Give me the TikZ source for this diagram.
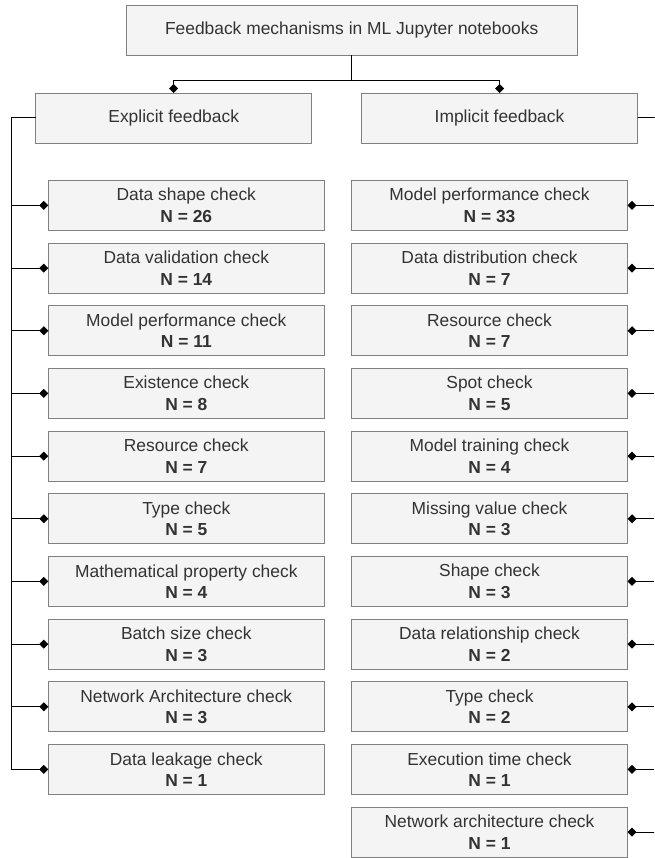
\documentclass[tikz,border=0pt]{standalone}
\usepackage{fontspec}
\setmainfont{Liberation Sans}
\usetikzlibrary{arrows.meta, positioning}

\definecolor{boxfill}{RGB}{244,244,244}
\definecolor{boxline}{RGB}{128,128,128}
\definecolor{textgray}{RGB}{51,51,51}

\begin{document}
\begin{tikzpicture}[
    x=1pt, y=-1pt,
    node distance=12.67pt,
    box/.style={draw=boxline, fill=boxfill, line width=0.8pt, text=textgray,
        minimum height=50pt, inner sep=0pt, outer sep=0pt, align=center,
        font=\fontsize{17.4}{21.4}\selectfont},
    check/.style={box, minimum width=276pt},
    link/.style={line width=1pt, -{Diamond[length=9pt, width=9pt]}}
]
\useasboundingbox (0,0) rectangle (654,858);
\clip (0,0) rectangle (654,858);

    % Root and the two kinds of feedback
    \node[box, minimum width=451pt] (root) at (351.7,30.3) {Feedback mechanisms in ML Jupyter notebooks};
    \node[check] (explicit) [below=37.7pt of root, xshift=-178pt] {Explicit feedback};
    \node[check] (implicit) [below=37.7pt of root, xshift=147.8pt] {Implicit feedback};

    % Explicit feedback checks
    \node[check] (e1) [below=37.4pt of explicit, xshift=12.6pt] {Data shape check\\\textbf{N = 26}};
    \node[check] (e2) [below=of e1] {Data validation check\\\textbf{N = 14}};
    \node[check] (e3) [below=of e2] {Model performance check\\\textbf{N = 11}};
    \node[check] (e4) [below=of e3] {Existence check\\\textbf{N = 8}};
    \node[check] (e5) [below=of e4] {Resource check\\\textbf{N = 7}};
    \node[check] (e6) [below=of e5] {Type check\\\textbf{N = 5}};
    \node[check] (e7) [below=of e6] {Mathematical property check\\\textbf{N = 4}};
    \node[check] (e8) [below=of e7] {Batch size check\\\textbf{N = 3}};
    \node[check] (e9) [below=of e8] {Network Architecture check\\\textbf{N = 3}};
    \node[check] (e10) [below=of e9] {Data leakage check\\\textbf{N = 1}};

    % Implicit feedback checks
    \node[check] (i1) [below=37.4pt of implicit, xshift=-10pt] {Model performance check\\\textbf{N = 33}};
    \node[check] (i2) [below=of i1] {Data distribution check\\\textbf{N = 7}};
    \node[check] (i3) [below=of i2] {Resource check\\\textbf{N = 7}};
    \node[check] (i4) [below=of i3] {Spot check\\\textbf{N = 5}};
    \node[check] (i5) [below=of i4] {Model training check\\\textbf{N = 4}};
    \node[check] (i6) [below=of i5] {Missing value check\\\textbf{N = 3}};
    \node[check] (i7) [below=of i6] {Shape check\\\textbf{N = 3}};
    \node[check] (i8) [below=of i7] {Data relationship check\\\textbf{N = 2}};
    \node[check] (i9) [below=of i8] {Type check\\\textbf{N = 2}};
    \node[check] (i10) [below=of i9] {Execution time check\\\textbf{N = 1}};
    \node[check] (i11) [below=of i10] {Network architecture check\\\textbf{N = 1}};

    % Root to the two kinds
    \draw[link] (root.south) -- ++(0,25) -| (explicit.north);
    \draw[link] (root.south) -- ++(0,25) -| (implicit.north);

    % Left bus
    \draw[link] (explicit.west) -- ++(-24.7,0) |- (e1.west);
    \draw[link] (explicit.west) -- ++(-24.7,0) |- (e2.west);
    \draw[link] (explicit.west) -- ++(-24.7,0) |- (e3.west);
    \draw[link] (explicit.west) -- ++(-24.7,0) |- (e4.west);
    \draw[link] (explicit.west) -- ++(-24.7,0) |- (e5.west);
    \draw[link] (explicit.west) -- ++(-24.7,0) |- (e6.west);
    \draw[link] (explicit.west) -- ++(-24.7,0) |- (e7.west);
    \draw[link] (explicit.west) -- ++(-24.7,0) |- (e8.west);
    \draw[link] (explicit.west) -- ++(-24.7,0) |- (e9.west);
    \draw[link] (explicit.west) -- ++(-24.7,0) |- (e10.west);

    % Right bus (runs just past the edge)
    \draw[link] (implicit.east) -- ++(22.7,0) |- (i1.east);
    \draw[link] (implicit.east) -- ++(22.7,0) |- (i2.east);
    \draw[link] (implicit.east) -- ++(22.7,0) |- (i3.east);
    \draw[link] (implicit.east) -- ++(22.7,0) |- (i4.east);
    \draw[link] (implicit.east) -- ++(22.7,0) |- (i5.east);
    \draw[link] (implicit.east) -- ++(22.7,0) |- (i6.east);
    \draw[link] (implicit.east) -- ++(22.7,0) |- (i7.east);
    \draw[link] (implicit.east) -- ++(22.7,0) |- (i8.east);
    \draw[link] (implicit.east) -- ++(22.7,0) |- (i9.east);
    \draw[link] (implicit.east) -- ++(22.7,0) |- (i10.east);
    \draw[link] (implicit.east) -- ++(22.7,0) |- (i11.east);
\end{tikzpicture}
\end{document}
